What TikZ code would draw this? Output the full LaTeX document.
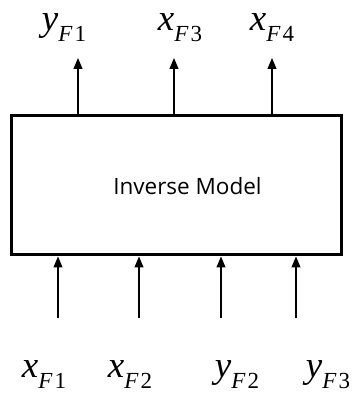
\documentclass[tikz,border=0pt]{standalone}
\usepackage{fontspec}
\setmainfont{Liberation Serif}
\newfontfamily\labelsans{Open Sans}
\usetikzlibrary{arrows.meta}
\newcommand\varlab[3]{\fontsize{37}{37}\selectfont\textit{#1}\raisebox{-11pt}{\fontsize{23}{23}\selectfont\textit{#2}\kern2pt #3}}
\tikzset{
  box/.style={draw, line width=3pt, minimum width=330pt, minimum height=139pt, inner sep=0pt},
  sig/.style={line width=1.2pt, -{Triangle[width=9pt,length=11pt]}},
  vlab/.style={anchor=base, inner sep=0pt}
}
\begin{document}
\begin{tikzpicture}[x=1pt,y=1pt]
\useasboundingbox (0,0) rectangle (359,400);
\node[box] (m) at (176,214.5) {};
\node[font=\labelsans\fontsize{22.5}{22.5}\selectfont] at (187.5,214) {Inverse Model};
% top outputs
\coordinate (o1) at (78,342);
\coordinate (o2) at (174,342);
\coordinate (o3) at (272,342);
\draw[sig] (m.north -| o1) -- (o1);
\draw[sig] (m.north -| o2) -- (o2);
\draw[sig] (m.north -| o3) -- (o3);
\node[vlab] (t1) at (64,369) {\varlab{y}{F}{1}};
\node[vlab] (t2) at (180,369) {\varlab{x}{F}{3}};
\node[vlab] (t3) at (272,369) {\varlab{x}{F}{4}};
% bottom inputs
\coordinate (i1) at (58,82);
\coordinate (i2) at (139,82);
\coordinate (i3) at (221,82);
\coordinate (i4) at (296,82);
\draw[sig] (i1) -- (m.south -| i1);
\draw[sig] (i2) -- (m.south -| i2);
\draw[sig] (i3) -- (m.south -| i3);
\draw[sig] (i4) -- (m.south -| i4);
\node[vlab] (b1) at (44,23) {\varlab{x}{F}{1}};
\node[vlab] (b2) at (130,23) {\varlab{x}{F}{2}};
\node[vlab] (b3) at (237,23) {\varlab{y}{F}{2}};
\node[vlab] (b4) at (328,23) {\varlab{y}{F}{3}};
\end{tikzpicture}
\end{document}
